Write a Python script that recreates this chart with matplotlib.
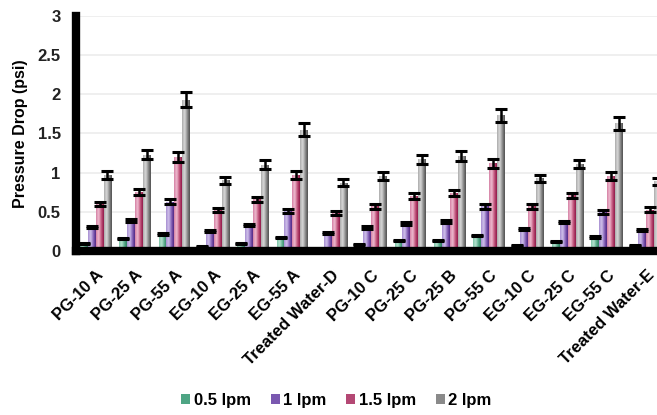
import numpy as np
import matplotlib
matplotlib.use('Agg')
import matplotlib.pyplot as plt
from matplotlib.colors import LinearSegmentedColormap
from matplotlib.patches import Patch

plt.rcParams['font.family'] = ['Liberation Sans', 'DejaVu Sans']
plt.rcParams['font.weight'] = 'bold'

# dados
categorias = ['PG-10 A', 'PG-25 A', 'PG-55 A', 'EG-10 A', 'EG-25 A', 'EG-55 A',
              'Treated Water-D', 'PG-10 C', 'PG-25 C', 'PG-25 B', 'PG-55 C',
              'EG-10 C', 'EG-25 C', 'EG-55 C', 'Treated Water-E']
series = ['0.5 lpm', '1 lpm', '1.5 lpm', '2 lpm']

v_05 = [0.10, 0.165, 0.22, 0.055, 0.10, 0.17, 0.02, 0.08, 0.13, 0.14, 0.20, 0.07, 0.12, 0.18, 0.07]
v_1 = [0.31, 0.39, 0.63, 0.25, 0.33, 0.51, 0.23, 0.30, 0.35, 0.38, 0.57, 0.28, 0.37, 0.50, 0.27]
v_15 = [0.60, 0.75, 1.20, 0.52, 0.66, 0.97, 0.49, 0.57, 0.70, 0.74, 1.12, 0.57, 0.71, 0.96, 0.53]
v_2 = [0.97, 1.23, 1.93, 0.90, 1.10, 1.55, 0.87, 0.96, 1.17, 1.21, 1.73, 0.93, 1.11, 1.63, 0.89]

e_05 = [0.005, 0.008, 0.01, 0.004, 0.005, 0.008, 0.003, 0.004, 0.006, 0.007, 0.01, 0.004, 0.006, 0.009, 0.004]
e_1 = [0.015, 0.02, 0.03, 0.013, 0.016, 0.025, 0.012, 0.015, 0.017, 0.019, 0.028, 0.014, 0.018, 0.025, 0.013]
e_15 = [0.03, 0.037, 0.06, 0.026, 0.033, 0.048, 0.024, 0.028, 0.035, 0.037, 0.056, 0.028, 0.035, 0.048, 0.026]
e_2 = [0.05, 0.06, 0.095, 0.045, 0.055, 0.077, 0.043, 0.048, 0.058, 0.06, 0.086, 0.046, 0.055, 0.08, 0.044]

# gradientes (claro -> escuro) imitando o efeito cilíndrico
gradientes = [
    ['#7cc4a6', '#b9e4d2', '#5aae8c', '#2c7c5e'],
    ['#a58cd0', '#d3c4ec', '#8a68bc', '#4e2482'],
    ['#d47ea2', '#f0bfd2', '#c4587f', '#8e1646'],
    ['#a8a8a8', '#dcdcdc', '#8e8e8e', '#4e4e4e'],
]
cores_legenda = ['#4ea584', '#7a58b0', '#b44874', '#8a8a8a']

valores = [v_05, v_1, v_15, v_2]
erros = [e_05, e_1, e_15, e_2]

fig = plt.figure(figsize=(6.57, 4.15), dpi=100)
ax = fig.add_axes([0.1157, 0.395, 0.886, 0.567])

x = np.arange(len(categorias))
largura = 0.2
grad = np.linspace(0, 1, 64).reshape(1, -1)

for i, (vals, errs) in enumerate(zip(valores, erros)):
    pos = x + (i - 1.5) * largura
    barras = ax.bar(pos, vals, largura, color=cores_legenda[i], zorder=1)
    cmap = LinearSegmentedColormap.from_list('g%d' % i, gradientes[i])
    for b in barras:
        bx, by = b.get_x(), b.get_y()
        w, h = b.get_width(), b.get_height()
        im = ax.imshow(grad, extent=[bx, bx + w, by, by + h], cmap=cmap,
                       aspect='auto', zorder=1.5, interpolation='bicubic')
        im.set_clip_path(b)
    ax.errorbar(pos, vals, yerr=errs, fmt='none', ecolor='black',
                elinewidth=1.8, capsize=4.5, capthick=2.2, zorder=2)

ax.set_xlim(-0.5, 14.3)
ax.set_ylim(0, 3)
ax.set_yticks(np.arange(0, 3.01, 0.5))
ax.set_yticklabels(['0', '0.5', '1', '1.5', '2', '2.5', '3'])
ax.yaxis.grid(True, color='#ececec', linewidth=1.2, zorder=0)
ax.set_axisbelow(True)

ax.set_xticks(x)
ax.set_xticklabels(categorias, rotation=45, ha='right', va='top',
                   rotation_mode='anchor', fontsize=12, fontweight='bold')
ax.tick_params(axis='x', length=0, pad=12)
ax.tick_params(axis='y', length=0, pad=11, labelsize=12, labelcolor='#222222')

for s in ['top', 'right']:
    ax.spines[s].set_visible(False)
for s in ['left', 'bottom']:
    ax.spines[s].set_linewidth(6)
    ax.spines[s].set_color('black')
    ax.spines[s].set_zorder(3)

ax.set_ylabel('Pressure Drop (psi)', fontsize=11.5, fontweight='bold')
ax.yaxis.set_label_coords(-0.083, 0.5)

handles = [Patch(facecolor=c, edgecolor='none') for c in cores_legenda]
fig.legend(handles, series, loc='center', bbox_to_anchor=(0.512, 0.036), ncol=4,
           frameon=False, prop={'size': 12, 'weight': 'bold'},
           handlelength=0.55, handleheight=0.55, handletextpad=0.2, columnspacing=1.2)

fig.savefig('out.png', dpi=100)
plt.close(fig)
